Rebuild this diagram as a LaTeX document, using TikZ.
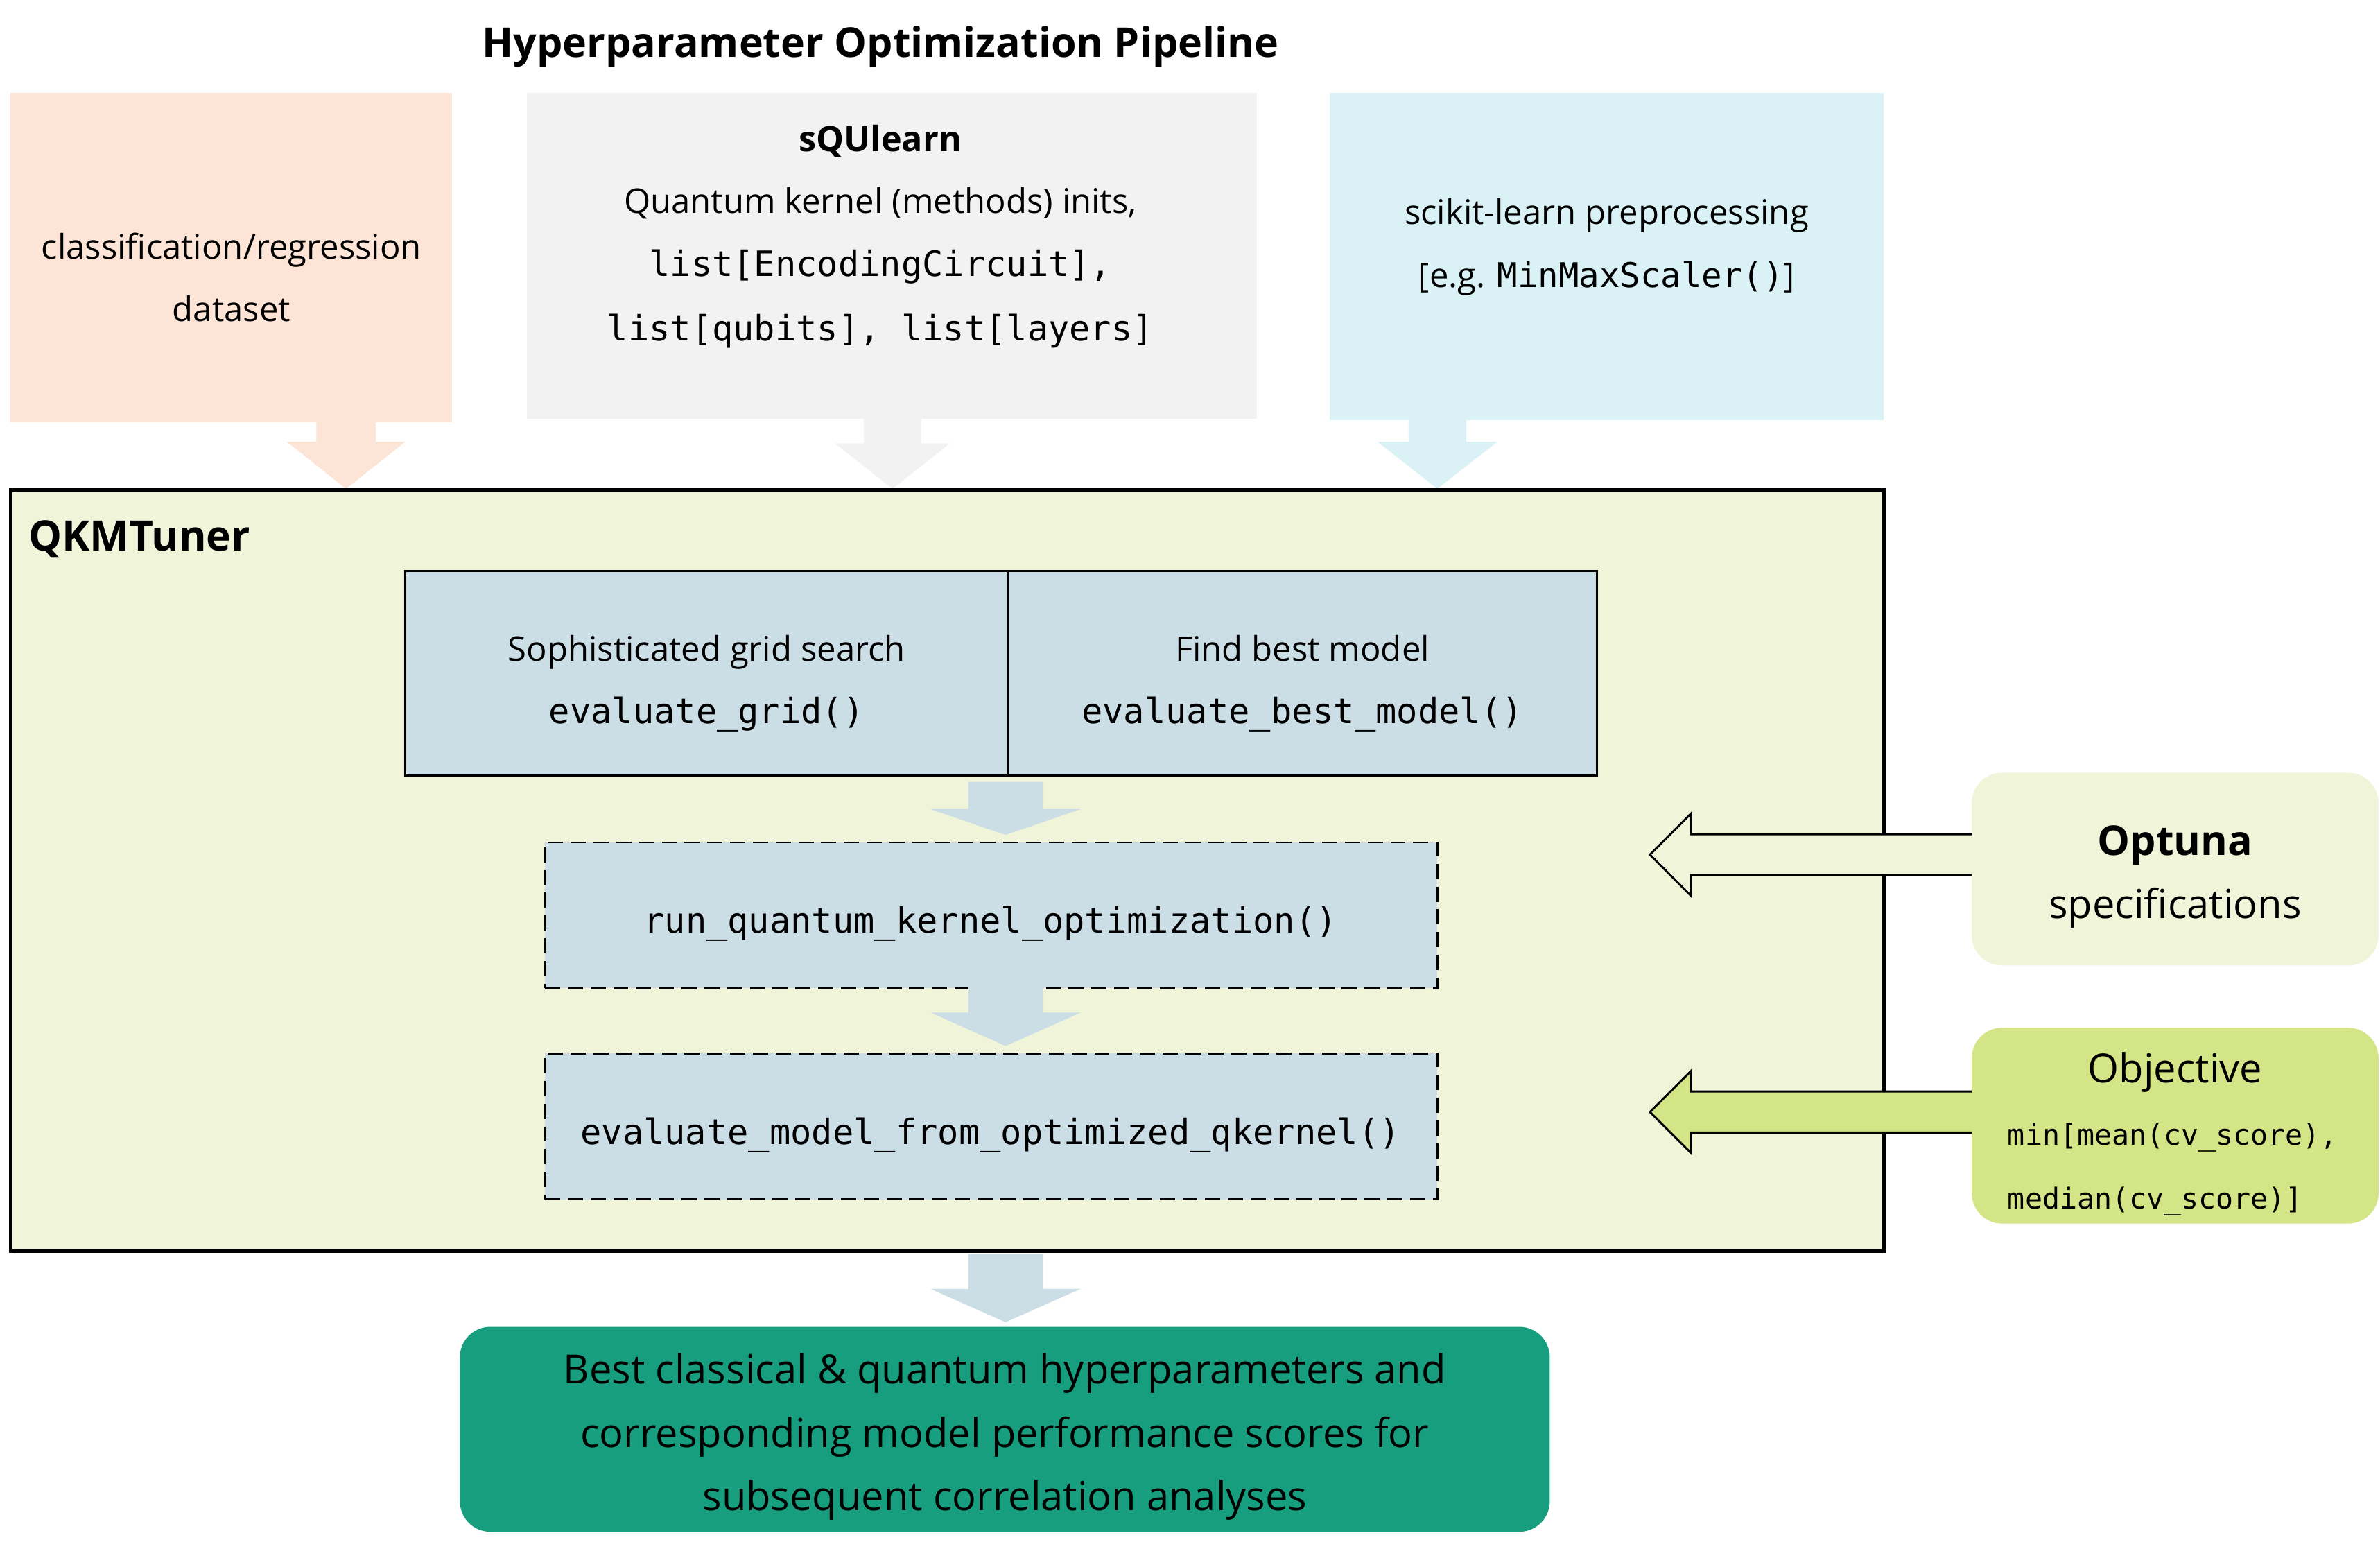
\documentclass[tikz,border=0pt]{standalone}
\usepackage{fontspec}
\setmainfont{Open Sans}
\setmonofont{DejaVu Sans Mono}
\definecolor{cpeach}{HTML}{FCE4D6}
\definecolor{cgray}{HTML}{F2F2F2}
\definecolor{ccyan}{HTML}{DAF2F5}
\definecolor{couter}{HTML}{F0F5DA}
\definecolor{cblue}{HTML}{CBDEE6}
\definecolor{cteal}{HTML}{179E7E}
\definecolor{cobj}{HTML}{D4E587}
\newcommand\blockdown[7]{%
  \fill[#7] (#1-#5,#2) -- (#1+#5,#2) -- (#1+#5,#3) -- (#1+#6,#3) -- (#1,#4) -- (#1-#6,#3) -- (#1-#5,#3) -- cycle;}
\newcommand\blockleft[2]{% #1 = centre y, #2 = colour
  \fill[#2] (1299,#1-13.5) -- (1114,#1-13.5) -- (1114,#1-27) -- (1087,#1) -- (1114,#1+27) -- (1114,#1+13.5) -- (1299,#1+13.5) -- cycle;
  \draw[line width=0.7pt, line join=miter] (1299,#1-13.5) -- (1114,#1-13.5) -- (1114,#1-27) -- (1087,#1) -- (1114,#1+27) -- (1114,#1+13.5) -- (1299,#1+13.5);}
\tikzset{
  boxn/.style={rectangle, inner sep=0pt, outer sep=0pt},
  txt/.style={inner sep=0pt, outer sep=0pt, anchor=base, font=\fontsize{11.2}{13}\selectfont},
  bigtxt/.style={inner sep=0pt, outer sep=0pt, anchor=base, font=\fontsize{13.2}{15}\selectfont},
  mono/.style={inner sep=0pt, outer sep=0pt, anchor=base, font=\ttfamily\fontsize{11.5}{13}\selectfont},
  smallmono/.style={inner sep=0pt, outer sep=0pt, anchor=base west, font=\ttfamily\fontsize{9.5}{11}\selectfont},
  boldtxt/.style={inner sep=0pt, outer sep=0pt, anchor=base, font=\bfseries\fontsize{11.5}{13}\selectfont},
}
\begin{document}
\begin{tikzpicture}[x=0.5pt,y=-0.5pt]
\useasboundingbox (0,0) rectangle (1568,1020.3);
% title
\node[inner sep=0pt, anchor=base, font=\bfseries\fontsize{13.5}{15}\selectfont] (title) at (580,37.5) {Hyperparameter Optimization Pipeline};
% top input boxes
\node[boxn, fill=cpeach, minimum width=145.5pt, minimum height=108.5pt] (data) at (152.5,169.5) {};
\node[boxn, fill=cgray, minimum width=240.5pt, minimum height=107.5pt] (squ) at (587.5,168.5) {};
\node[boxn, fill=ccyan, minimum width=182.5pt, minimum height=108pt] (skl) at (1058.5,169) {};
% top arrows
\blockdown{228}{277}{291}{322}{19.5}{39}{cpeach}
\blockdown{588}{275}{292}{322}{19}{38}{cgray}
\blockdown{947}{276}{291}{322}{19}{39.5}{ccyan}
% QKMTuner frame
\node[boxn, fill=couter, draw=black, line width=1.25pt, minimum width=617pt, minimum height=250.5pt] (tuner) at (624,573.5) {};
\node[inner sep=0pt, anchor=base west, font=\bfseries\fontsize{13.8}{15}\selectfont] (tunerlbl) at (18.4,363) {QKMTuner};
% grid boxes
\node[boxn, fill=cblue, draw=black, line width=0.6pt, minimum width=198.5pt, minimum height=67.5pt] (grid) at (465.5,443.5) {};
\node[boxn, fill=cblue, draw=black, line width=0.6pt, minimum width=194pt, minimum height=67.5pt] (best) at (858,443.5) {};
% dashed boxes
\node[boxn, fill=cblue, draw=black, line width=0.6pt, dash pattern=on 5pt off 2.5pt, minimum width=294pt, minimum height=48pt] (run) at (653,603) {};
\node[boxn, fill=cblue, draw=black, line width=0.6pt, dash pattern=on 5pt off 2.5pt, minimum width=294pt, minimum height=48pt] (evalm) at (653,742) {};
% inner arrows
\blockdown{662.5}{515}{533}{550}{24.5}{49.5}{cblue}
\blockdown{662.5}{649}{667}{689}{24.5}{49.5}{cblue}
\blockdown{662.5}{826}{849}{871}{24.5}{49.5}{cblue}
% result
\node[boxn, fill=cteal, rounded corners=10pt, minimum width=359pt, minimum height=67.5pt] (result) at (662,941.5) {};
% right boxes
\node[boxn, fill=couter, rounded corners=10pt, minimum width=134pt, minimum height=63.5pt] (optuna) at (1433,572.5) {};
\node[boxn, fill=cobj, rounded corners=10pt, minimum width=134pt, minimum height=64.5pt] (obj) at (1433,741.5) {};
% left arrows
\blockleft{563}{couter}
\blockleft{732.5}{cobj}
% texts
\node[txt] (dt1) at (152.5,170.4) {classification/regression};
\node[txt] (dt2) at (152.5,211.8) {dataset};
\node[boldtxt] (st1) at (580,99.6) {sQUlearn};
\node[txt] (st2) at (580,140.4) {Quantum kernel (methods) inits,};
\node[mono] (st3) at (580,182.2) {list[EncodingCircuit],};
\node[mono] (st4) at (580,224.5) {list[qubits], list[layers]};
\node[txt] (kt1) at (1058.5,147.7) {scikit-learn preprocessing};
\node[txt] (kt2) at (1058.5,189.2) {[e.g. \texttt{MinMaxScaler()}]};
\node[txt] (gt1) at (465.5,435.7) {Sophisticated grid search};
\node[mono] (gt2) at (465.5,476.5) {evaluate\_grid()};
\node[txt] (bt1) at (858,435.7) {Find best model};
\node[mono] (bt2) at (858,476.5) {evaluate\_best\_model()};
\node[mono] (rt) at (652.5,614.7) {run\_quantum\_kernel\_optimization()};
\node[mono] (et) at (652.5,754) {evaluate\_model\_from\_optimized\_qkernel()};
\node[bigtxt] (r1) at (662,911.6) {Best classical \& quantum hyperparameters and};
\node[bigtxt] (r2) at (662,953.4) {corresponding model performance scores for};
\node[bigtxt] (r3) at (662,994.9) {subsequent correlation analyses};
\node[inner sep=0pt, anchor=base, font=\bfseries\fontsize{13.5}{15}\selectfont] (ot1) at (1433,563.2) {Optuna};
\node[bigtxt] (ot2) at (1433,605) {specifications};
\node[bigtxt] (jt1) at (1433,713.1) {Objective};
\node[smallmono] (jt2) at (1322.7,754.3) {min[mean(cv\_score),};
\node[smallmono] (jt3) at (1322.7,796.4) {median(cv\_score)]};
\end{tikzpicture}
\end{document}
